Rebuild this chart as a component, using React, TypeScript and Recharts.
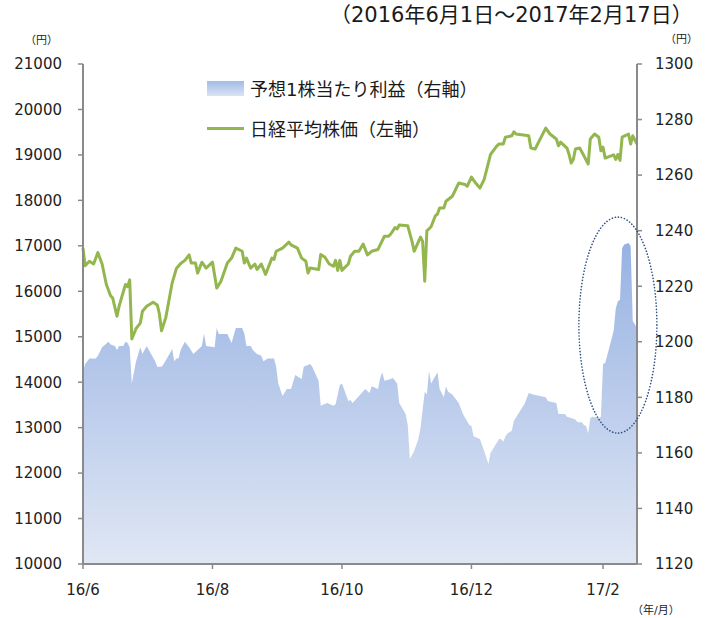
import React from 'react';
import { ComposedChart, Area, Line, XAxis, YAxis, Legend, ReferenceDot } from 'recharts';

// x values are trading days counted from 2016-06-01 (day 0) to 2017-02-17 (day 261)
const monthTicks = [0, 61, 122, 183, 245];
const monthLabels = ['16/6', '16/8', '16/10', '16/12', '17/2'];
const leftTicks = [10000, 11000, 12000, 13000, 14000, 15000, 16000, 17000, 18000, 19000, 20000, 21000];
const rightTicks = [1120, 1140, 1160, 1180, 1200, 1220, 1240, 1260, 1280, 1300];

// 日経平均株価 (left axis) as [day, yen]
const nikkei: [number, number][] = [
  [0, 16950], [1, 16560], [3, 16660], [5, 16600], [7, 16850], [9, 16600], [11, 16150], [13, 15900],
  [14, 15850], [16, 15450], [17, 15670], [20, 16150], [21, 16100], [22, 16250], [23, 14950], [25, 15180],
  [27, 15300], [28, 15560], [30, 15670], [33, 15760], [35, 15700], [36, 15500], [37, 15130], [39, 15420],
  [42, 16180], [44, 16500], [46, 16610], [48, 16680], [50, 16800], [51, 16620], [53, 16620], [54, 16400],
  [56, 16640], [58, 16510], [61, 16640], [63, 16070], [65, 16220], [68, 16620], [70, 16730], [72, 16950],
  [75, 16880], [76, 16620], [77, 16730], [79, 16510], [81, 16600], [82, 16480], [84, 16600], [86, 16370],
  [89, 16730], [90, 16700], [91, 16880], [94, 16950], [97, 17080], [98, 17020], [101, 16950], [103, 16730],
  [105, 16660], [106, 16400], [107, 16510], [111, 16480], [112, 16810], [114, 16750], [116, 16600], [118, 16550],
  [119, 16680], [120, 16460], [121, 16680], [122, 16460], [125, 16600], [126, 16770], [128, 16880], [130, 16880],
  [132, 17040], [134, 16800], [136, 16880], [139, 16920], [140, 17020], [142, 17210], [144, 17210], [145, 17260],
  [147, 17400], [148, 17370], [149, 17460], [153, 17440], [155, 17100], [156, 16880], [159, 17190], [160, 17100],
  [161, 16220], [162, 17330], [164, 17420], [166, 17660], [167, 17700], [168, 17830], [170, 17830], [171, 17980],
  [174, 18090], [177, 18380], [180, 18350], [181, 18310], [183, 18510], [185, 18380], [187, 18270], [189, 18460],
  [192, 19010], [195, 19200], [196, 19240], [198, 19240], [199, 19390], [202, 19420], [203, 19510], [204, 19460],
  [210, 19420], [211, 19150], [213, 19130], [218, 19590], [220, 19460], [223, 19350], [224, 19200], [225, 19280],
  [228, 19150], [229, 19010], [230, 18820], [231, 18900], [232, 19130], [234, 19150], [236, 18980], [238, 18800],
  [239, 19350], [241, 19460], [243, 19390], [244, 19090], [245, 19170], [246, 18930], [250, 19000], [251, 18900],
  [252, 19010], [253, 18880], [254, 19390], [257, 19460], [258, 19240], [259, 19420], [261, 19240],
];

// 予想1株当たり利益 (right axis) as [day, yen]
const eps: [number, number][] = [
  [0, 1189], [1, 1192], [3, 1194], [6, 1194], [7, 1195], [9, 1198], [12, 1200], [13, 1199],
  [15, 1198.5], [16, 1197], [17, 1198.5], [19, 1198.5], [20, 1200], [21, 1199.6], [22, 1198], [23, 1185],
  [25, 1193], [27, 1198], [28, 1195.6], [30, 1198.5], [34, 1193], [35, 1191], [37, 1191], [38, 1192],
  [41, 1196], [42, 1197.4], [43, 1193], [44, 1194], [45, 1194], [46, 1197], [48, 1200], [50, 1198],
  [52, 1195.6], [54, 1197], [56, 1198.5], [57, 1203], [58, 1198.5], [62, 1198], [63, 1205], [64, 1202.8],
  [68, 1202.8], [70, 1199.6], [72, 1205], [75, 1205], [76, 1203], [77, 1198.5], [79, 1198.5], [80, 1197],
  [82, 1195.6], [84, 1195], [85, 1193], [87, 1194], [90, 1194], [91, 1191], [92, 1185], [94, 1180.5],
  [96, 1183], [98, 1183], [100, 1188], [103, 1186.6], [104, 1191], [107, 1192], [108, 1191], [111, 1186],
  [112, 1177], [115, 1178], [118, 1177], [119, 1177.5], [121, 1184.4], [122, 1185], [125, 1178.7], [126, 1179],
  [127, 1178], [130, 1180.5], [133, 1183], [135, 1181.6], [136, 1184], [139, 1183], [140, 1187], [141, 1189],
  [142, 1186], [145, 1186.6], [146, 1187], [148, 1185], [149, 1178], [152, 1174], [153, 1170], [154, 1157.8],
  [156, 1160.7], [158, 1165], [159, 1169], [161, 1182], [162, 1181], [163, 1189.5], [164, 1185], [167, 1189],
  [168, 1183], [170, 1180], [171, 1184], [172, 1182], [174, 1181], [177, 1178], [179, 1174], [182, 1170],
  [183, 1169.7], [184, 1166], [187, 1165], [189, 1160.7], [191, 1156], [192, 1160], [194, 1162.5], [196, 1165],
  [197, 1165], [198, 1164], [199, 1166], [200, 1167], [202, 1168], [203, 1171.5], [205, 1174], [208, 1177.6],
  [210, 1181.6], [212, 1181], [218, 1180], [219, 1178.7], [223, 1178], [224, 1174], [227, 1174], [228, 1173],
  [230, 1172.6], [232, 1172], [233, 1171], [235, 1171], [236, 1170], [237, 1169.7], [238, 1167], [239, 1172.6],
  [240, 1173], [243, 1172.6], [244, 1173], [245, 1192], [246, 1192.4], [248, 1198], [250, 1204], [251, 1212],
  [252, 1214.7], [253, 1215], [254, 1233.8], [255, 1235], [257, 1235.6], [258, 1234.5], [259, 1207.5], [261, 1205],
];

// centre of the dotted ellipse (day, right-axis yen)
const circled: [number, number] = [252, 1206];

type Row = { day: number; nikkei?: number; eps?: number };

const buildRows = (): Row[] => {
  const byDay = new Map<number, Row>();
  nikkei.forEach(([d, v]) => byDay.set(d, { ...(byDay.get(d) || { day: d }), nikkei: v }));
  eps.forEach(([d, v]) => byDay.set(d, { ...(byDay.get(d) || { day: d }), eps: v }));
  return Array.from(byDay.values()).sort((a, b) => a.day - b.day);
};

const rows = buildRows();

const FONT = '"DejaVu Sans", "Noto Sans CJK JP", sans-serif';
const AXIS = '#8a8a8a';
const GREEN = '#93b64e';

const LegendBox = () => (
  <div style={{ fontFamily: FONT, fontSize: 18, color: '#1a1a1a', whiteSpace: 'nowrap' }}>
    <div style={{ display: 'flex', alignItems: 'center', height: 20 }}>
      <span style={{ display: 'inline-block', width: 37, height: 15, marginRight: 6, background: 'linear-gradient(#a2bbe7, #dbe3f3)' }} />
      予想1株当たり利益（右軸）
    </div>
    <div style={{ display: 'flex', alignItems: 'center', height: 20, marginTop: 20 }}>
      <span style={{ display: 'inline-block', width: 37, height: 3, marginRight: 6, background: GREEN }} />
      日経平均株価（左軸）
    </div>
  </div>
);

const Ellipse = (props: any) => (
  <ellipse cx={props.cx} cy={props.cy} rx={39} ry={108} fill="none" stroke="#2f4f86"
    strokeWidth={1.6} strokeDasharray="0.1 3" strokeLinecap="round" />
);

const tickStyle = { fill: '#222', fontSize: 15, fontFamily: FONT };
const small = { position: 'absolute' as const, fontFamily: FONT, fontSize: 11, color: '#222', whiteSpace: 'nowrap' as const, lineHeight: 1 };

export default function App() {
  return (
    <div style={{ position: 'absolute', left: 0, top: 0, width: 709, height: 618, background: '#fff' }}>
      <ComposedChart width={709} height={618} data={rows} margin={{ top: 64, right: 0, bottom: 0, left: 0 }}>
        <defs>
          <linearGradient id="epsFill" x1="0" y1="0" x2="0" y2="1">
            <stop offset="0%" stopColor="#97b2e3" />
            <stop offset="100%" stopColor="#e0e7f4" />
          </linearGradient>
        </defs>
        <XAxis dataKey="day" type="number" domain={[0, 261]} ticks={monthTicks} interval={0}
          tickFormatter={(d: number) => monthLabels[monthTicks.indexOf(d)]}
          height={54} tickSize={5} tickMargin={15} tick={tickStyle}
          axisLine={{ stroke: AXIS, strokeWidth: 2 }} tickLine={{ stroke: AXIS, strokeWidth: 1.5 }} />
        <YAxis yAxisId="left" domain={[10000, 21000]} ticks={leftTicks} interval={0} width={83}
          tickSize={5} tickMargin={16} tick={tickStyle}
          axisLine={{ stroke: AXIS, strokeWidth: 2 }} tickLine={{ stroke: AXIS, strokeWidth: 1.5 }} />
        <YAxis yAxisId="right" orientation="right" domain={[1120, 1300]} ticks={rightTicks} interval={0} width={72}
          tickSize={5} tickMargin={13} tick={tickStyle}
          axisLine={{ stroke: AXIS, strokeWidth: 2 }} tickLine={{ stroke: AXIS, strokeWidth: 1.5 }} />
        <Area yAxisId="right" type="linear" dataKey="eps" stroke="none" fill="url(#epsFill)" fillOpacity={1}
          connectNulls dot={false} activeDot={false} isAnimationActive={false} />
        <Line yAxisId="left" type="linear" dataKey="nikkei" stroke={GREEN} strokeWidth={3} strokeLinejoin="round"
          connectNulls dot={false} activeDot={false} isAnimationActive={false} />
        <ReferenceDot yAxisId="right" x={circled[0]} y={circled[1]} shape={Ellipse} ifOverflow="visible" />
        <Legend layout="horizontal" verticalAlign="middle" align="center" content={LegendBox}
          wrapperStyle={{ left: 207, top: 78, width: 'auto' }} />
      </ComposedChart>
      <div style={{ position: 'absolute', left: 330, top: 4, fontFamily: FONT, fontSize: 21, color: '#1a1a1a', whiteSpace: 'nowrap', lineHeight: 1.1 }}>
        （2016年6月1日～2017年2月17日）
      </div>
      <div style={{ ...small, left: 25, top: 35 }}>（円）</div>
      <div style={{ ...small, left: 665, top: 34 }}>（円）</div>
      <div style={{ ...small, left: 632, top: 605 }}>（年/月）</div>
    </div>
  );
}
